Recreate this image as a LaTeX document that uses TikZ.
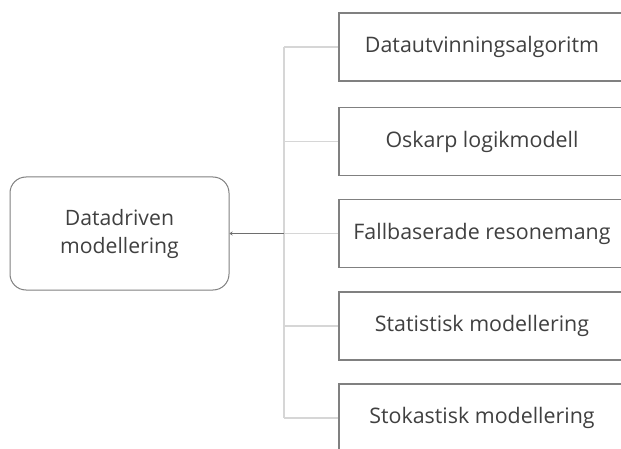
\documentclass[tikz,border=0pt]{standalone}
\usepackage{fontspec}
\setmainfont{Open Sans}
\usetikzlibrary{arrows.meta}
\definecolor{txt}{HTML}{404040}
\definecolor{boxline}{HTML}{808080}
\definecolor{branch}{HTML}{D6D6D6}
\definecolor{mainline}{HTML}{6E6E6E}
\tikzset{
  leaf/.style={draw=boxline, line width=1.3pt, fill=white, minimum width=286pt, minimum height=68pt,
    inner sep=0pt, text=txt, font=\fontsize{21.4}{26}\selectfont},
  root/.style={draw=boxline, line width=1pt, rounded corners=16pt, fill=white, minimum width=219pt,
    minimum height=113pt, inner sep=0pt, text=txt, align=center, font=\fontsize{21.2}{28}\selectfont},
  branchline/.style={draw=branch, line width=1.3pt},
  mainconn/.style={draw=mainline, line width=1.2pt, -{Stealth[length=3pt,width=4pt]}}
}
\begin{document}
\begin{tikzpicture}[x=1pt,y=-1pt]
\useasboundingbox (0,0) rectangle (621,449);
\clip (0,0) rectangle (621,449);
\fill[white] (0,0) rectangle (621,449);
\node[root] (root) at (119.5,233.5) {Datadriven\\modellering};
\node[leaf] (b1) at (482,47) {Datautvinningsalgoritm};
\node[leaf] (b2) at (482,141.5) {Oskarp logikmodell};
\node[leaf] (b3) at (482,233.5) {Fallbaserade resonemang};
\node[leaf] (b4) at (482,326) {Statistisk modellering};
\node[leaf] (b5) at (482,418) {Stokastisk modellering};
\coordinate (j) at (284,233.5);
\draw[branchline] (b1.west -| j) -- (b5.west -| j);
\foreach \b in {b1,b2,b3,b4,b5} {
  \draw[branchline] (\b.west -| j) -- (\b.west);
}
\draw[mainconn] (j) -- (root.east);
\end{tikzpicture}
\end{document}
